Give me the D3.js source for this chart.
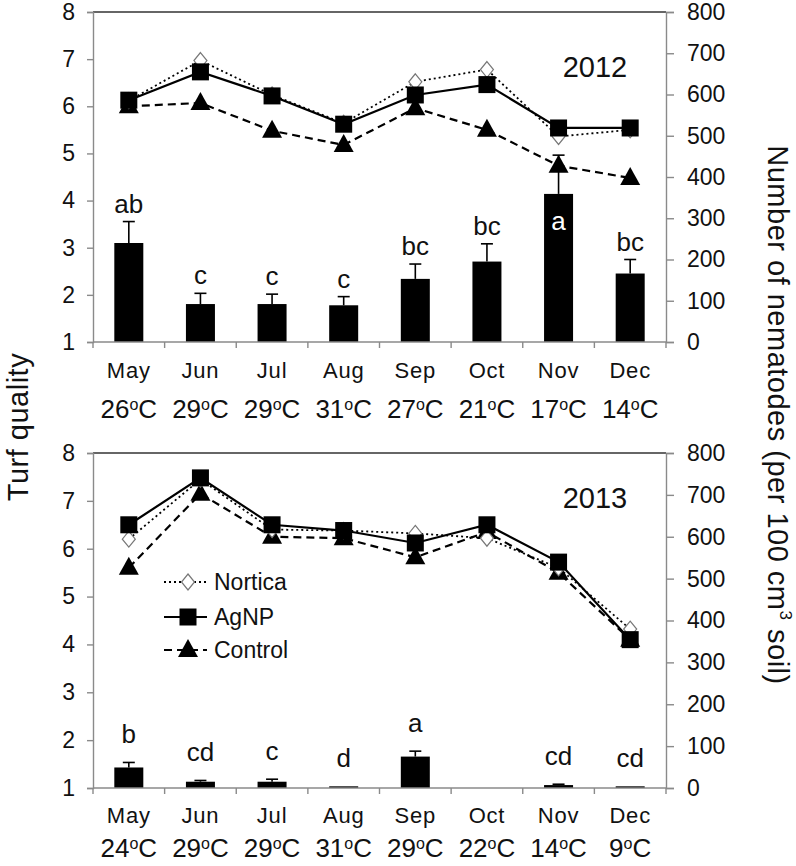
<!DOCTYPE html>
<html><head><meta charset="utf-8">
<script src="https://cdn.jsdelivr.net/npm/d3@7"></script>
<style>body{margin:0;background:#fff}svg{display:block}text{font-family:"Liberation Sans",Arial,sans-serif;fill:#111}</style>
</head><body><svg id="c" width="796" height="866"></svg>
<script>
const months = ["May","Jun","Jul","Aug","Sep","Oct","Nov","Dec"];
const temps2012 = ["26","29","29","31","27","21","17","14"];
const temps2013 = ["24","29","29","31","29","22","14","9"];
const qualityTicks = [1,2,3,4,5,6,7,8];
const nematodeTicks = [0,100,200,300,400,500,600,700,800];

const nortica2012 = [6.12, 6.97, 6.24, 5.64, 6.52, 6.78, 5.36, 5.5];
const agnp2012    = [6.13, 6.73, 6.22, 5.62, 6.24, 6.46, 5.54, 5.54];
const control2012 = [6.0, 6.07, 5.48, 5.18, 5.96, 5.5, 4.74, 4.48];
const nematodes2012 = [240, 92, 92, 89, 153, 195, 359, 166];
const err2012       = [52, 26, 24, 21, 36, 43, 94, 34];
const letters2012   = ["ab","c","c","c","bc","bc","a","bc"];

const nortica2013 = [6.2, 7.45, 6.4, 6.38, 6.32, 6.22, 5.6, 4.32];
const agnp2013    = [6.5, 7.48, 6.5, 6.38, 6.12, 6.5, 5.72, 4.1];
const control2013 = [5.6, 7.15, 6.25, 6.22, 5.82, 6.35, 5.5, 4.1];
const nematodes2013 = [49, 15, 15, 4, 75, 0, 7, 4];
const err2013       = [12, 3, 6, 0, 13, 0, 2, 0];
const letters2013   = ["b","cd","c","d","a","","cd","cd"];

const seriesNames = ["Nortica","AgNP","Control"];

const svg = d3.select("#c");
const L = 93, R = 666;
const x = d3.scaleBand().domain(months).range([L, R]).padding(0);
const barW = 29;
const axisGray = "#8a8a8a";
const FONT = '"Liberation Sans",Arial,sans-serif';

function diamond(g, cx, cy){
  g.append("path").attr("d", `M${cx},${cy-8}L${cx+6.5},${cy}L${cx},${cy+8}L${cx-6.5},${cy}Z`)
   .attr("fill","#fff").attr("stroke","#777").attr("stroke-width",1.2);
}
function square(g, cx, cy){
  g.append("rect").attr("x",cx-8.5).attr("y",cy-8.5).attr("width",17).attr("height",17).attr("fill","#000");
}
function triangle(g, cx, cy){
  g.append("path").attr("d", `M${cx},${cy-11}L${cx+10},${cy+7}L${cx-10},${cy+7}Z`).attr("fill","#000");
}
const styles = {
  Nortica:{dash:"2,3", width:1.8, marker:diamond},
  AgNP:{dash:null, width:2.2, marker:square},
  Control:{dash:"8,5", width:2.2, marker:triangle}
};

function panel(o){
  const yL = d3.scaleLinear().domain([1,8]).range([o.bottom, o.top]);
  const yR = d3.scaleLinear().domain([0,800]).range([o.bottom, o.top]);
  const g = svg.append("g");

  g.append("line").attr("x1",L).attr("x2",R).attr("y1",o.top).attr("y2",o.top).attr("stroke","#333").attr("stroke-width",1.6);

  const la = g.append("g").attr("transform",`translate(${L},0)`).call(d3.axisLeft(yL).tickValues(qualityTicks).tickSize(6).tickPadding(12).tickFormat(d3.format("d")));
  la.select(".domain").attr("stroke",axisGray).attr("stroke-width",1.4);
  la.selectAll(".tick line").attr("stroke",axisGray).attr("stroke-width",1.4);
  la.selectAll("text").attr("font-size",23).attr("fill","#111").attr("font-family",FONT);

  const ra = g.append("g").attr("transform",`translate(${R},0)`).call(d3.axisRight(yR).tickValues(nematodeTicks).tickSize(8).tickPadding(13).tickFormat(d3.format("d")));
  ra.select(".domain").attr("stroke",axisGray).attr("stroke-width",1.4);
  ra.selectAll(".tick line").attr("stroke",axisGray).attr("stroke-width",1.4);
  ra.selectAll("text").attr("font-size",23).attr("fill","#111").attr("font-family",FONT);

  const bx = d => x(d) + x.bandwidth()/2;
  months.forEach((m,i)=>{
    const v = o.nem[i];
    if (v > 0) g.append("rect").attr("x",bx(m)-barW/2).attr("y",yR(v)).attr("width",barW).attr("height",o.bottom-yR(v)).attr("fill","#000");
    if (o.err[i] > 0){
      const yt = yR(v + o.err[i]);
      g.append("line").attr("x1",bx(m)).attr("x2",bx(m)).attr("y1",yR(v)).attr("y2",yt).attr("stroke","#000").attr("stroke-width",1.6);
      g.append("line").attr("x1",bx(m)-6).attr("x2",bx(m)+6).attr("y1",yt).attr("y2",yt).attr("stroke","#000").attr("stroke-width",1.6);
    }
    const lab = o.letters[i];
    if (lab){
      const inside = v > 300;
      const ly = inside ? yR(v) + 36 : yR(v + o.err[i]) - o.gap;
      g.append("text").attr("x",bx(m)).attr("y",ly).attr("text-anchor","middle").attr("font-size",26)
        .style("fill", inside ? "#fff" : "#111").text(lab);
    }
  });

  g.append("line").attr("x1",L).attr("x2",R).attr("y1",o.bottom).attr("y2",o.bottom).attr("stroke",axisGray).attr("stroke-width",1.4);
  const bounds = months.map(m=>x(m)).concat([R]);
  bounds.forEach(b=>g.append("line").attr("x1",b).attr("x2",b).attr("y1",o.bottom).attr("y2",o.bottom+6).attr("stroke",axisGray).attr("stroke-width",1.4));

  months.forEach((m,i)=>{
    g.append("text").attr("x",bx(m)).attr("y",o.monthY).attr("text-anchor","middle").attr("font-size",22).attr("letter-spacing",0.8).text(m);
    const t = g.append("text").attr("x",bx(m)).attr("y",o.tempY).attr("text-anchor","middle").attr("font-size",26);
    t.append("tspan").text(o.temps[i]);
    t.append("tspan").attr("font-size",16).attr("dy",-8).text("o");
    t.append("tspan").attr("dy",8).text("C");
  });

  const series = [["Control",o.control],["Nortica",o.nortica],["AgNP",o.agnp]];
  series.forEach(([name, vals])=>{
    const st = styles[name];
    const line = d3.line().x((d,i)=>bx(months[i])).y(d=>yL(d));
    g.append("path").datum(vals).attr("d",line).attr("fill","none").attr("stroke","#000")
      .attr("stroke-width",st.width).attr("stroke-dasharray",st.dash);
  });
  series.forEach(([name, vals])=>{
    vals.forEach((v,i)=>styles[name].marker(g, bx(months[i]), yL(v)));
  });

  g.append("text").attr("x",595).attr("y",o.yearY).attr("text-anchor","middle").attr("font-size",29).text(o.year);
  return {g, yL};
}

panel({top:12, bottom:342, nem:nematodes2012, err:err2012, letters:letters2012, gap:9,
  nortica:nortica2012, agnp:agnp2012, control:control2012, temps:temps2012,
  monthY:378, tempY:418, year:"2012", yearY:77});
panel({top:453, bottom:788, nem:nematodes2013, err:err2013, letters:letters2013, gap:19,
  nortica:nortica2013, agnp:agnp2013, control:control2013, temps:temps2013,
  monthY:823, tempY:857, year:"2013", yearY:508});

const legY = [582, 617, 650];
seriesNames.forEach((name,i)=>{
  const st = styles[name];
  const lg = svg.append("g");
  lg.append("line").attr("x1",164).attr("x2",207).attr("y1",legY[i]).attr("y2",legY[i]).attr("stroke","#000")
    .attr("stroke-width",st.width).attr("stroke-dasharray",st.dash);
  st.marker(lg, 188, legY[i]);
  lg.append("text").attr("x",214).attr("y",legY[i]+8).attr("font-size",23).text(name);
});

svg.append("text").attr("transform","translate(28,427) rotate(-90)").attr("text-anchor","middle").attr("font-size",29).attr("letter-spacing",0.5).text("Turf quality");
const rt = svg.append("text").attr("transform","translate(768,415) rotate(90)").attr("text-anchor","middle").attr("font-size",29).attr("letter-spacing",0.5);
rt.append("tspan").text("Number of nematodes (per 100 cm");
rt.append("tspan").attr("font-size",17).attr("dy",-12).text("3");
rt.append("tspan").attr("dy",12).text(" soil)");
</script></body></html>
